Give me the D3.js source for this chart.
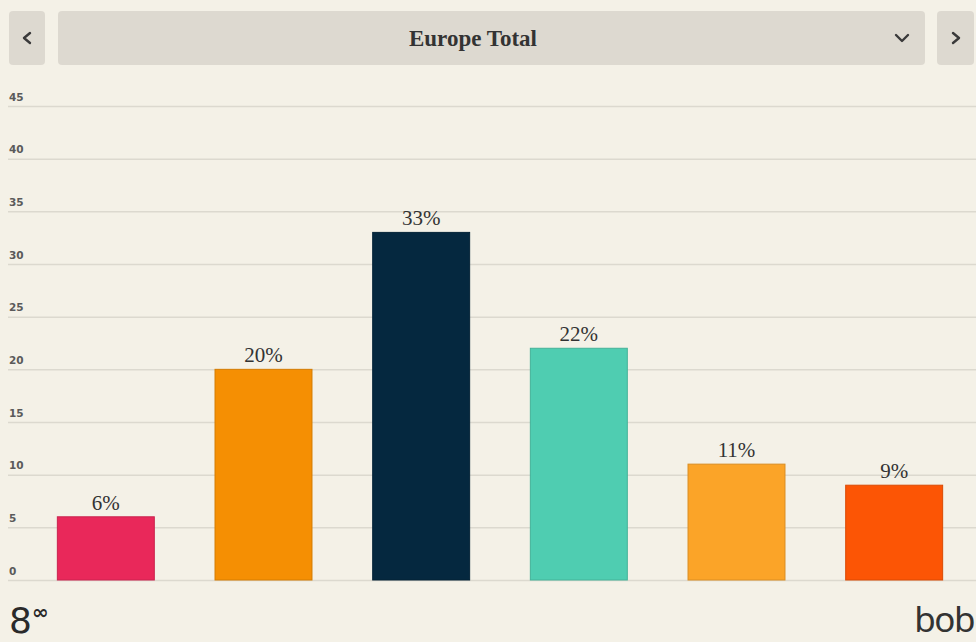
<!DOCTYPE html>
<html>
<head>
<meta charset="utf-8">
<script src="https://cdn.jsdelivr.net/npm/d3@7"></script>
<style>
  html, body { margin: 0; padding: 0; background: #f4f1e7; }
  svg { display: block; }
</style>
</head>
<body>
<svg id="chart" width="976" height="642"></svg>
<script>
// Share of total by segment
const categories = ["A", "B", "C", "D", "E", "F"];
const values = [6, 20, 33, 22, 11, 9];
const barColors = ["#e9285a", "#f58f03", "#05283f", "#4fcdb1", "#fba428", "#fc5505"];
const yTicks = [0, 5, 10, 15, 20, 25, 30, 35, 40, 45];
const title = "Europe Total";

const svg = d3.select("#chart");
const W = 976, H = 642;

svg.append("rect").attr("width", W).attr("height", H).attr("fill", "#f4f1e7");

// Header: prev button, dropdown, next button
const header = svg.append("g");
const btnFill = "#ddd9d0";
header.append("rect").attr("x", 9).attr("y", 11).attr("width", 36).attr("height", 54).attr("rx", 4).attr("fill", btnFill);
header.append("rect").attr("x", 58).attr("y", 11).attr("width", 867).attr("height", 54).attr("rx", 4).attr("fill", btnFill);
header.append("rect").attr("x", 937).attr("y", 11).attr("width", 37).attr("height", 54).attr("rx", 4).attr("fill", btnFill);

const chevron = (pts) => header.append("path")
  .attr("d", d3.line()(pts))
  .attr("fill", "none").attr("stroke", "#3a3a3a")
  .attr("stroke-width", 2.4).attr("stroke-linecap", "round").attr("stroke-linejoin", "round");
chevron([[30, 33], [24, 38], [30, 43]]);
chevron([[953, 33], [959, 38], [953, 43]]);
chevron([[896, 35], [902, 41], [908, 35]]);

header.append("text")
  .attr("x", 473).attr("y", 46)
  .attr("text-anchor", "middle")
  .attr("font-family", "'Liberation Serif', 'Times New Roman', serif")
  .attr("font-weight", "bold")
  .attr("font-size", 23)
  .attr("fill", "#333")
  .text(title);

// Scales
const x = d3.scaleBand()
  .domain(categories)
  .range([27, 973])
  .paddingInner(0.385)
  .paddingOuter(0.1925);

const y = d3.scaleLinear().domain([0, 45]).range([580, 106]);

// Grid lines and tick labels
const yAxis = d3.axisLeft(y).tickValues(yTicks).tickSize(0).tickFormat(d3.format("d"));
const axisG = svg.append("g").call(yAxis);
axisG.select(".domain").remove();
axisG.selectAll(".tick text")
  .attr("x", 9).attr("dy", -6)
  .attr("text-anchor", "start")
  .attr("font-family", "'DejaVu Sans', sans-serif")
  .attr("font-weight", "bold")
  .attr("font-size", 10.5)
  .attr("fill", "#5a5a5a");
axisG.selectAll(".tick").append("line")
  .attr("x1", 8).attr("x2", 976)
  .attr("stroke", "#dcd9cf").attr("stroke-width", 1.5);

// Bars
svg.append("g").selectAll("rect")
  .data(values)
  .join("rect")
  .attr("x", (d, i) => x(categories[i]))
  .attr("y", d => y(d))
  .attr("width", x.bandwidth())
  .attr("height", d => y(0) - y(d))
  .attr("fill", (d, i) => barColors[i])
  .attr("stroke", (d, i) => d3.color(barColors[i]).darker(0.4))
  .attr("stroke-width", 1);

// Value labels
svg.append("g").selectAll("text")
  .data(values)
  .join("text")
  .attr("x", (d, i) => x(categories[i]) + x.bandwidth() / 2)
  .attr("y", d => y(d) - 7)
  .attr("text-anchor", "middle")
  .attr("font-family", "'Liberation Serif', 'Times New Roman', serif")
  .attr("font-size", 21)
  .attr("fill", "#333")
  .text(d => d + "%");

// Footer marks
svg.append("text")
  .attr("x", 9).attr("y", 633)
  .attr("font-family", "'DejaVu Sans', sans-serif")
  .attr("font-size", 36)
  .attr("fill", "#2a2a2a")
  .text("8");
svg.append("text")
  .attr("x", 32).attr("y", 619)
  .attr("font-family", "'DejaVu Sans', sans-serif")
  .attr("font-weight", "bold")
  .attr("font-size", 20)
  .attr("fill", "#2a2a2a")
  .text("∞");
svg.append("text")
  .attr("x", 974).attr("y", 632)
  .attr("text-anchor", "end")
  .attr("font-family", "'Noto Sans', sans-serif")
  .attr("font-size", 35)
  .attr("letter-spacing", -1.5)
  .attr("fill", "#333")
  .text("bob");
</script>
</body>
</html>
